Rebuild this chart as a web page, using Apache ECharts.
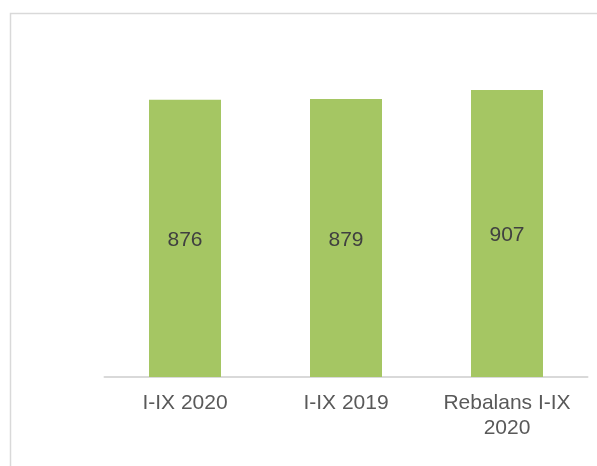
<!DOCTYPE html>
<html>
<head>
<meta charset="utf-8">
<script src="https://cdn.jsdelivr.net/npm/echarts@6/dist/echarts.min.js"></script>
<style>
html,body{margin:0;padding:0;background:#fff;}
#chart{width:597px;height:466px;}
</style>
</head>
<body>
<div id="chart"></div>
<script>
const categories = ['I-IX 2020', 'I-IX 2019', 'Rebalans I-IX\n2020'];
const values = [876, 879, 907];

const chart = echarts.init(document.getElementById('chart'), null, {renderer: 'canvas'});
chart.setOption({
  animation: false,
  backgroundColor: '#ffffff',
  graphic: [{
    type: 'rect',
    shape: {x: 10.5, y: 13.5, width: 600, height: 470},
    style: {fill: 'none', stroke: '#d9d9d9', lineWidth: 1.5},
    silent: true
  }],
  grid: {left: 104.5, right: 9.5, top: 60.6, bottom: 89},
  xAxis: {
    type: 'category',
    data: categories,
    axisLine: {show: true, lineStyle: {color: '#d9d9d9', width: 2}},
    axisTick: {show: false},
    axisLabel: {
      color: '#595959',
      fontFamily: 'Liberation Sans, Arial, sans-serif',
      fontSize: 21,
      lineHeight: 25,
      margin: 14,
      interval: 0
    }
  },
  yAxis: {
    type: 'value',
    min: 0,
    max: 1000,
    show: false,
    splitLine: {show: false}
  },
  series: [{
    type: 'bar',
    data: values,
    barWidth: 72,
    itemStyle: {color: '#A5C663'},
    label: {
      show: true,
      position: 'inside',
      offset: [0, 2],
      color: '#404040',
      fontFamily: 'Liberation Sans, Arial, sans-serif',
      fontSize: 21
    }
  }]
});
</script>
</body>
</html>
